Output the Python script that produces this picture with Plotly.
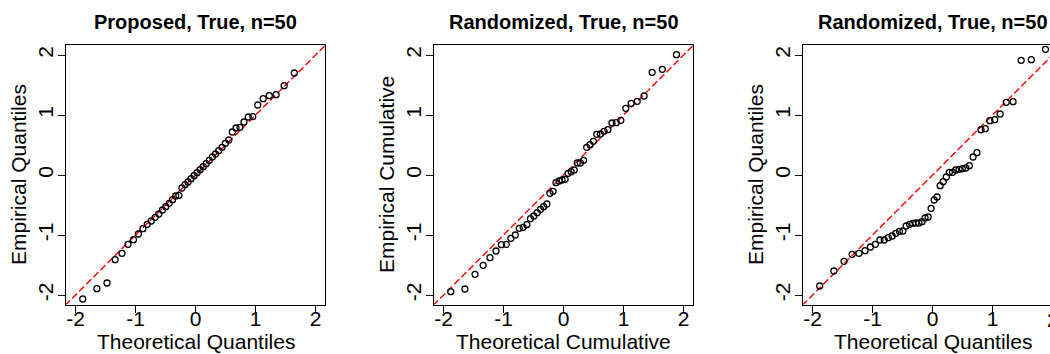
import plotly.graph_objects as go

# ---------------- data ----------------
theo_q = [-1.881, -1.645, -1.476, -1.341, -1.227, -1.126, -1.036, -0.954, -0.878, -0.806,
          -0.739, -0.674, -0.613, -0.553, -0.496, -0.440, -0.385, -0.332, -0.279, -0.228,
          -0.176, -0.126, -0.075, -0.025, 0.025, 0.075, 0.126, 0.176, 0.228, 0.279,
          0.332, 0.385, 0.440, 0.496, 0.553, 0.613, 0.674, 0.739, 0.806, 0.878,
          0.954, 1.036, 1.126, 1.227, 1.341, 1.476, 1.645, 1.881]

p1_x = theo_q[:47]
p1_y = [-2.067, -1.894, -1.8, -1.411, -1.306, -1.156, -1.078, -0.983, -0.894, -0.822,
        -0.767, -0.706, -0.65, -0.583, -0.528, -0.472, -0.411, -0.35, -0.339, -0.217,
        -0.161, -0.117, -0.061, -0.011, 0.039, 0.089, 0.139, 0.189, 0.244, 0.3,
        0.35, 0.406, 0.461, 0.528, 0.583, 0.717, 0.783, 0.794, 0.883, 0.967,
        0.972, 1.167, 1.272, 1.322, 1.339, 1.489, 1.7]

p2_x = theo_q
p2_y = [-1.944, -1.9, -1.656, -1.506, -1.378, -1.267, -1.161, -1.156, -1.056, -1.0,
        -0.889, -0.872, -0.828, -0.728, -0.683, -0.628, -0.572, -0.528, -0.483, -0.306,
        -0.272, -0.128, -0.1, -0.083, -0.072, 0.028, 0.056, 0.083, 0.2, 0.2,
        0.244, 0.461, 0.506, 0.561, 0.678, 0.683, 0.728, 0.756, 0.867, 0.872,
        0.911, 1.111, 1.194, 1.228, 1.317, 1.711, 1.761, 2.006]

p3_x = theo_q
p3_y = [-1.85, -1.6, -1.439, -1.322, -1.306, -1.261, -1.2, -1.156, -1.083, -1.083,
        -1.044, -1.017, -0.972, -0.939, -0.933, -0.85, -0.822, -0.806, -0.8, -0.8,
        -0.778, -0.717, -0.7, -0.556, -0.417, -0.367, -0.178, -0.111, -0.033, 0.044,
        0.044, 0.083, 0.094, 0.106, 0.117, 0.156, 0.3, 0.372, 0.756, 0.772,
        0.906, 0.922, 1.017, 1.211, 1.222, 1.911, 1.922, 2.094]

titles = ["Proposed, True, n=50", "Randomized, True, n=50", "Randomized, True, n=50"]
x_titles = ["Theoretical Quantiles", "Theoretical Cumulative", "Theoretical Quantiles"]
y_titles = ["Empirical Quantiles", "Empirical Cumulative", "Empirical Quantiles"]
tick_vals = [-2, -1, 0, 1, 2]
tick_text = ["-2", "-1", "0", "1", "2"]
ref_line = [-3, 3]   # the y = x reference line

# ---------------- layout geometry ----------------
W, H = 1050, 354
FONT = "Liberation Sans, Arial, Helvetica, sans-serif"
lim = 2.16
px_per_unit = 60.0
left_px = [66.0, 434.0, 803.0]
top_px, bot_px = 45.4, 304.6
ydom = [1 - bot_px / H, 1 - top_px / H]

xdoms, xranges = [], []
for lp in left_px:
    rp = min(lp + 2 * lim * px_per_unit, W)
    xdoms.append([lp / W, rp / W])
    xranges.append([-lim, -lim + (rp - lp) / px_per_unit])

fig = go.Figure()
series = [(p1_x, p1_y), (p2_x, p2_y), (p3_x, p3_y)]
for i, (xs, ys) in enumerate(series):
    ax = "" if i == 0 else str(i + 1)
    fig.add_trace(go.Scatter(x=ref_line, y=ref_line, mode="lines",
                             line=dict(color="#FF0000", width=1.4, dash="7px,3px"),
                             xaxis="x" + ax, yaxis="y" + ax, hoverinfo="skip"))
    fig.add_trace(go.Scatter(x=xs, y=ys, mode="markers",
                             marker=dict(symbol="circle-open", size=6, color="black",
                                         line=dict(width=1.3, color="black")),
                             xaxis="x" + ax, yaxis="y" + ax, cliponaxis=True))

    common = dict(showgrid=False, zeroline=False, showline=True, linecolor="black",
                  linewidth=1, ticks="outside", ticklen=7, tickwidth=1, tickcolor="black",
                  tickvals=tick_vals, ticktext=tick_text,
                  tickfont=dict(family=FONT, size=21, color="black"))
    xa = dict(common, domain=xdoms[i], range=xranges[i], anchor="y" + ax, mirror=True,
              ticklabelstandoff=-12)
    ya = dict(common, domain=ydom, range=[-lim, lim], anchor="x" + ax,
              mirror=(i != 2), tickangle=-90, ticklabelstandoff=-3)
    fig.layout["xaxis" + ax] = xa
    fig.layout["yaxis" + ax] = ya

    # panel centre in paper coords (full virtual panel)
    cx = (left_px[i] + lim * px_per_unit) / W
    fig.add_annotation(text="<b>%s</b>" % titles[i], x=cx, y=1 - 21.5 / H,
                       xref="paper", yref="paper", showarrow=False,
                       xanchor="center", yanchor="middle",
                       font=dict(family=FONT, size=20, color="black"))
    fig.add_annotation(text=x_titles[i], x=cx, y=1 - 341.5 / H,
                       xref="paper", yref="paper", showarrow=False,
                       xanchor="center", yanchor="middle",
                       font=dict(family=FONT, size=21, color="black"))
    fig.add_annotation(text=y_titles[i], x=(left_px[i] - 47) / W, y=(ydom[0] + ydom[1]) / 2,
                       xref="paper", yref="paper", showarrow=False, textangle=-90,
                       xanchor="center", yanchor="middle",
                       font=dict(family=FONT, size=21, color="black"))

# partially visible "2" tick label of the cut-off third panel
x2_paper = xdoms[2][0] + (2 - xranges[2][0]) * px_per_unit / W
fig.add_annotation(text=tick_text[4], x=x2_paper, y=1 - 319 / H, xref="paper", yref="paper",
                   showarrow=False, xanchor="center", yanchor="middle",
                   font=dict(family=FONT, size=21, color="black"))

fig.update_layout(width=W, height=H, margin=dict(l=0, r=0, t=0, b=0),
                  paper_bgcolor="white", plot_bgcolor="white", showlegend=False)

fig.write_html("out.html")
